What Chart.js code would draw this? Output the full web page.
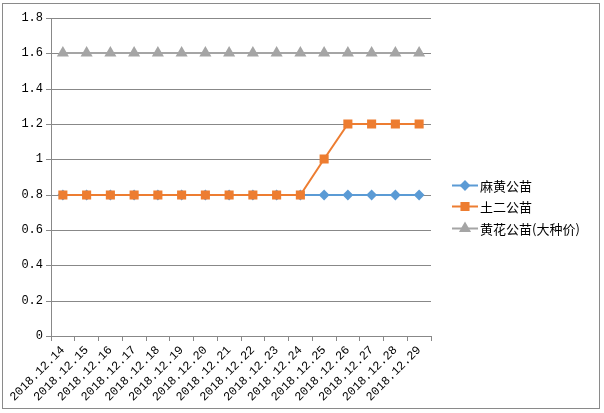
<!DOCTYPE html>
<html>
<head>
<meta charset="utf-8">
<script src="https://cdn.jsdelivr.net/npm/chart.js@4/dist/chart.umd.min.js"></script>
<style>
  html, body { margin: 0; padding: 0; background: #fff; }
  #wrap { position: absolute; left: 0; top: 0; width: 604px; height: 413px; }
</style>
</head>
<body>
<div id="wrap"><canvas id="chart" width="604" height="413"></canvas></div>
<script>
const dates = ['2018.12.14', '2018.12.15', '2018.12.16', '2018.12.17', '2018.12.18', '2018.12.19',
  '2018.12.20', '2018.12.21', '2018.12.22', '2018.12.23', '2018.12.24', '2018.12.25',
  '2018.12.26', '2018.12.27', '2018.12.28', '2018.12.29'];
const mahuang = [0.8, 0.8, 0.8, 0.8, 0.8, 0.8, 0.8, 0.8, 0.8, 0.8, 0.8, 0.8, 0.8, 0.8, 0.8, 0.8];
const tuer = [0.8, 0.8, 0.8, 0.8, 0.8, 0.8, 0.8, 0.8, 0.8, 0.8, 0.8, 1.0, 1.2, 1.2, 1.2, 1.2];
const huanghua = [1.6, 1.6, 1.6, 1.6, 1.6, 1.6, 1.6, 1.6, 1.6, 1.6, 1.6, 1.6, 1.6, 1.6, 1.6, 1.6];
const seriesNames = ['麻黄公苗', '土二公苗', '黄花公苗(大种价)'];

const gridColor = '#888';
const monoFont = { family: '"Liberation Mono", "DejaVu Sans Mono", monospace', size: 12 };

// frame round the whole chart, like the spreadsheet chart border
const framePlugin = {
  id: 'frame',
  beforeDraw(chart) {
    const ctx = chart.ctx;
    ctx.save();
    ctx.fillStyle = '#fff';
    ctx.fillRect(0, 0, chart.width, chart.height);
    ctx.strokeStyle = '#8a8a8a';
    ctx.lineWidth = 1;
    ctx.strokeRect(2.5, 3.5, 597, 405);
    ctx.restore();
  }
};

// legend on the right: line sample with marker, then the name
const sideLegend = {
  id: 'sideLegend',
  afterDraw(chart) {
    const ctx = chart.ctx;
    const rows = [185, 206, 228];
    ctx.save();
    chart.data.datasets.forEach((ds, i) => {
      const y = rows[i];
      ctx.strokeStyle = ds.borderColor;
      ctx.lineWidth = 2;
      ctx.beginPath();
      ctx.moveTo(452, y + 0.5);
      ctx.lineTo(478, y + 0.5);
      ctx.stroke();
      ctx.fillStyle = ds.pointBackgroundColor;
      ctx.strokeStyle = ds.pointBorderColor;
      Chart.helpers.drawPoint(ctx, {
        pointStyle: ds.pointStyle,
        radius: ds.pointRadius,
        rotation: 0,
        borderWidth: 1
      }, 465, y + 0.5);
      ctx.fillStyle = '#000';
      ctx.font = '13px "Noto Sans CJK SC", sans-serif';
      ctx.textBaseline = 'middle';
      ctx.fillText(ds.label, 480, y + 1);
    });
    ctx.restore();
  }
};

new Chart(document.getElementById('chart'), {
  type: 'line',
  data: {
    labels: dates,
    datasets: [
      {
        label: seriesNames[0],
        data: mahuang,
        borderColor: '#5B9BD5',
        backgroundColor: '#5B9BD5',
        pointBackgroundColor: '#5B9BD5',
        pointBorderColor: '#5B9BD5',
        pointStyle: 'rectRot',
        pointRadius: 4,
        borderWidth: 2,
        order: 1
      },
      {
        label: seriesNames[1],
        data: tuer,
        borderColor: '#ED7D31',
        backgroundColor: '#ED7D31',
        pointBackgroundColor: '#ED7D31',
        pointBorderColor: '#ED7D31',
        pointStyle: 'rect',
        pointRadius: 5,
        borderWidth: 2,
        order: 0
      },
      {
        label: seriesNames[2],
        data: huanghua,
        borderColor: '#A5A5A5',
        backgroundColor: '#A5A5A5',
        pointBackgroundColor: '#A5A5A5',
        pointBorderColor: '#A5A5A5',
        pointStyle: 'triangle',
        pointRadius: 5,
        borderWidth: 2,
        order: 2
      }
    ]
  },
  options: {
    responsive: false,
    animation: false,
    layout: { padding: { left: 0, top: 18, right: 173, bottom: 0 } },
    plugins: {
      legend: { display: false },
      tooltip: { enabled: false }
    },
    elements: { line: { tension: 0 } },
    scales: {
      x: {
        offset: true,
        grid: {
          offset: true,
          drawOnChartArea: false,
          color: gridColor,
          tickLength: 5
        },
        border: { color: gridColor },
        ticks: {
          color: '#000',
          font: monoFont,
          minRotation: 45,
          maxRotation: 45,
          autoSkip: false,
          padding: 2
        },
        afterFit(scale) { scale.height = 77; }
      },
      y: {
        min: 0,
        max: 1.8,
        alignToPixels: true,
        grid: { color: gridColor, tickLength: 5 },
        border: { color: gridColor },
        ticks: {
          stepSize: 0.2,
          color: '#000',
          font: monoFont,
          padding: 3,
          // spreadsheet style: 1 rather than 1.0
          callback: (v) => String(Number(v.toFixed(1)))
        },
        afterFit(scale) { scale.width = 51; }
      }
    }
  },
  plugins: [framePlugin, sideLegend]
});
</script>
</body>
</html>
